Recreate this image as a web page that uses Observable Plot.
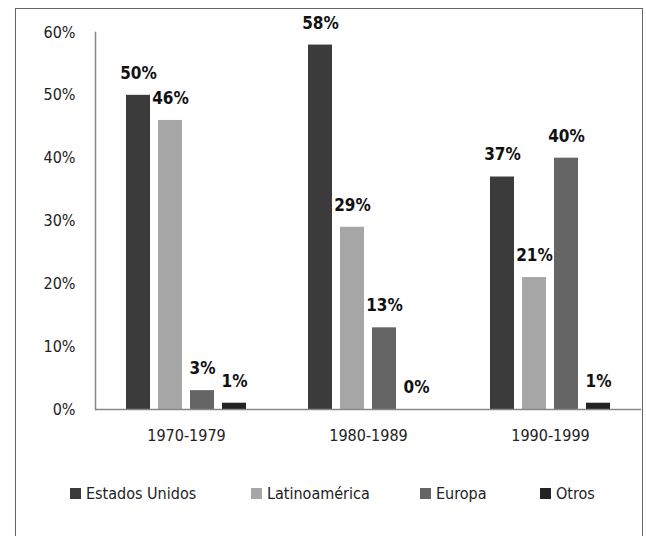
<!DOCTYPE html>
<html>
<head>
<meta charset="utf-8">
<script src="https://cdn.jsdelivr.net/npm/d3@7"></script>
<script src="https://cdn.jsdelivr.net/npm/@observablehq/plot@0.6"></script>
<style>
  body { margin: 0; background: #fff; }
  #wrap { position: relative; width: 646px; height: 536px; overflow: hidden;
    font-family: "Liberation Sans Narrow", "Arial Narrow", "DejaVu Sans Condensed", "Roboto Condensed", sans-serif; font-stretch: condensed; }
  #border { position: absolute; left: 15px; top: 8px; width: 626px; height: 560px; border: 1px solid #666; }
  #chart { position: absolute; left: 0; top: 0; }
  #legend { position: absolute; left: 0; top: 484px; width: 646px; height: 20px; font-size: 16px; color: #222; }
  .item { position: absolute; top: 0; display: flex; align-items: center; white-space: nowrap; }
  .sw { width: 11px; height: 11px; margin-right: 5px; display: inline-block; }
</style>
</head>
<body>
<div id="wrap">
  <div id="border"></div>
  <div id="chart"></div>
  <div id="legend"></div>
</div>
<script>
const periods = ["1970-1979", "1980-1989", "1990-1999"];
const series = ["Estados Unidos", "Latinoamérica", "Europa", "Otros"];
const colors = ["#3b3b3b", "#a6a6a6", "#656565", "#232323"];
const estadosUnidos = [50, 58, 37];
const latinoamerica = [46, 29, 21];
const europa = [3, 13, 40];
const otros = [1, 0, 1];
const yTicks = [0, 10, 20, 30, 40, 50, 60];

const seriesValues = [estadosUnidos, latinoamerica, europa, otros];
const data = [];
periods.forEach((p, i) => {
  series.forEach((s, j) => data.push({period: p, series: s, value: seriesValues[j][i]}));
});

const font = '"Liberation Sans Narrow", "Arial Narrow", "DejaVu Sans Condensed", "Roboto Condensed", sans-serif';

const chart = Plot.plot({
  width: 646,
  height: 460,
  marginLeft: 95,
  marginRight: 5,
  marginTop: 32,
  marginBottom: 51,
  style: {fontFamily: font, fontSize: "15px", color: "#222", background: "transparent", overflow: "visible"},
  fx: {domain: periods, padding: 0, label: null},
  x: {domain: series, paddingInner: 0.2424, paddingOuter: 0.879, axis: null},
  y: {domain: [0, 60], label: null},
  color: {domain: series, range: colors},
  marks: [
    Plot.barY(data, {fx: "period", x: "series", y: "value", fill: "series"}),
    Plot.text(data, {fx: "period", x: "series", y: "value", text: d => d.value + "%", dy: -22,
      fontWeight: "bold", fontSize: 17, fill: "#111"}),
    Plot.ruleY([0], {stroke: "#888", strokeWidth: 1.5}),
    Plot.frame({anchor: "left", facet: "super", stroke: "#888", strokeWidth: 1.5}),
    Plot.axisY({ticks: yTicks, tickSize: 0, tickPadding: 20, tickFormat: d => d + "%", fontSize: 16, label: null}),
    Plot.axisFx({anchor: "bottom", tickSize: 0, tickPadding: 20, fontSize: 16, label: null})
  ]
});
document.getElementById("chart").appendChild(chart);

const legendLefts = [70, 251, 420, 540];
const legend = document.getElementById("legend");
series.forEach((s, i) => {
  const item = document.createElement("div");
  item.className = "item";
  item.style.left = legendLefts[i] + "px";
  const sw = document.createElement("span");
  sw.className = "sw";
  sw.style.background = colors[i];
  const t = document.createElement("span");
  t.textContent = s;
  item.appendChild(sw);
  item.appendChild(t);
  legend.appendChild(item);
});
</script>
</body>
</html>
